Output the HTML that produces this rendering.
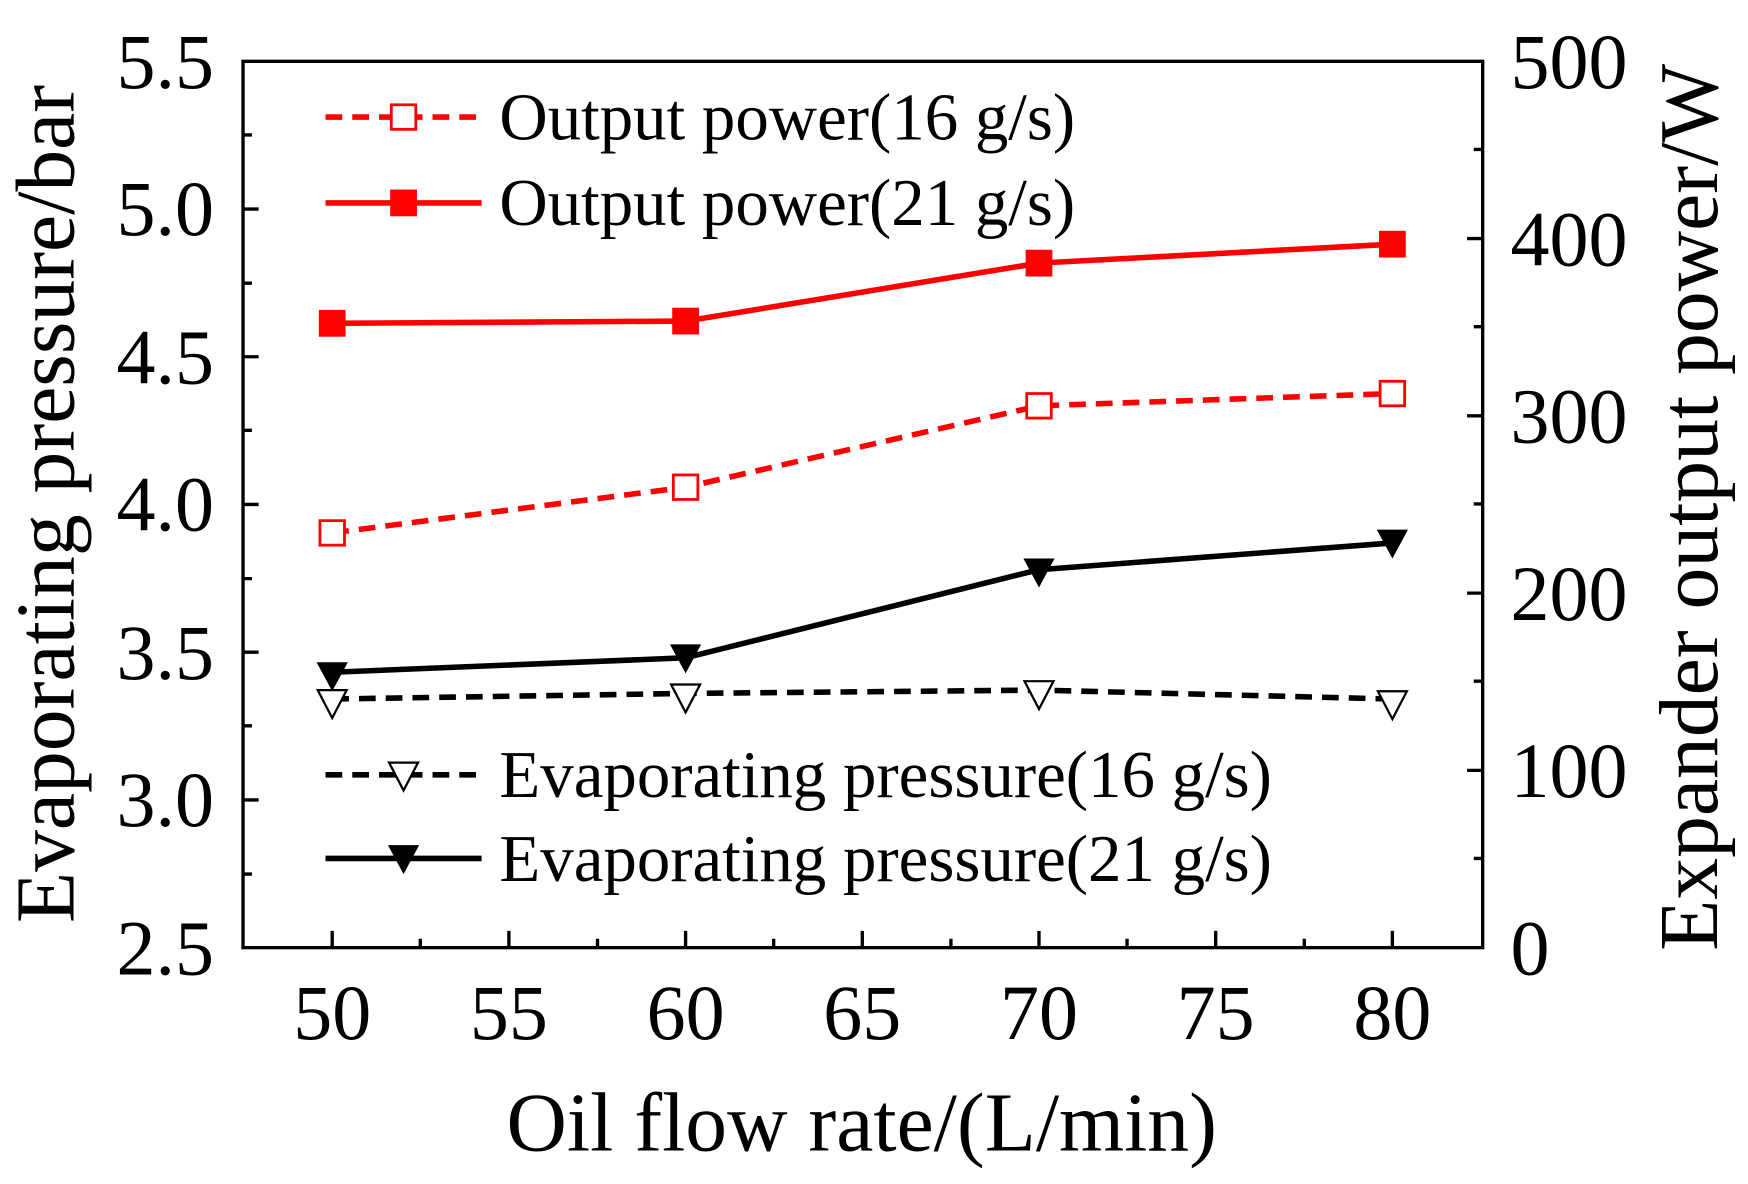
<!DOCTYPE html>
<html><head><style>html,body{margin:0;padding:0;background:#fff}svg{display:block}</style></head><body>
<svg width="1748" height="1184" viewBox="0 0 1568 1062" preserveAspectRatio="none" xmlns="http://www.w3.org/2000/svg" font-family="Liberation Serif, serif">
<rect x="218" y="55" width="1112" height="795" fill="none" stroke="#000" stroke-width="3"/>
<g stroke="#000" stroke-width="3">
<path d="M218 187.5h14M218 320h14M218 452.5h14M218 585h14M218 717.5h14M218 121h8M218 254h8M218 386h8M218 519h8M218 651h8M218 784h8"/>
<path d="M1330 214h-14M1330 373h-14M1330 532h-14M1330 691h-14M1330 134h-8M1330 293h-8M1330 452h-8M1330 611h-8M1330 770h-8"/>
<path d="M298 850v-15M456.5 850v-15M615 850v-15M773.5 850v-15M932 850v-15M1090.5 850v-15M1249 850v-15M377 850v-8M536 850v-8M694 850v-8M853 850v-8M1011 850v-8M1170 850v-8"/>
</g>
<g font-size="70" text-anchor="end">
<text x="192" y="79">5.5</text><text x="192" y="211">5.0</text><text x="192" y="344">4.5</text><text x="192" y="476">4.0</text><text x="192" y="609">3.5</text><text x="192" y="741">3.0</text><text x="192" y="874">2.5</text>
</g>
<g font-size="70" text-anchor="start">
<text x="1355" y="79">500</text><text x="1355" y="238">400</text><text x="1355" y="397">300</text><text x="1355" y="556">200</text><text x="1355" y="715">100</text><text x="1355" y="874">0</text>
</g>
<g font-size="70" text-anchor="middle">
<text x="298" y="932">50</text><text x="456.5" y="932">55</text><text x="615" y="932">60</text><text x="773.5" y="932">65</text><text x="932" y="932">70</text><text x="1090.5" y="932">75</text><text x="1249" y="932">80</text>
</g>
<text x="773" y="1032" font-size="75" text-anchor="middle">Oil flow rate/(L/min)</text>
<text transform="translate(66,452) rotate(-90)" font-size="75" text-anchor="middle">Evaporating pressure/bar</text>
<text transform="translate(1540,455) rotate(-90)" font-size="75" text-anchor="middle">Expander output power/W</text>
<g fill="none" stroke-width="5">
<polyline points="298,290 615,288 932,236 1249,219" stroke="#f00"/>
<polyline points="298,478 615,437 932,364 1249,353" stroke="#f00" stroke-dasharray="15,9"/>
<polyline points="298,603 615,590 932,511 1249,487" stroke="#000"/>
<polyline points="298,627 615,622 932,619 1249,627" stroke="#000" stroke-dasharray="15,9"/>
<path d="M292 105h140" stroke="#f00" stroke-dasharray="15,9"/>
<path d="M292 182h140" stroke="#f00"/>
<path d="M292 695h140" stroke="#000" stroke-dasharray="15,9"/>
<path d="M292 770h140" stroke="#000"/>
</g>
<g fill="#f00">
<rect x="286" y="278" width="24" height="24"/><rect x="603" y="276" width="24" height="24"/><rect x="920" y="224" width="24" height="24"/><rect x="1237" y="207" width="24" height="24"/><rect x="350" y="170" width="24" height="24"/>
</g>
<g fill="#fff" stroke="#f00" stroke-width="2.5">
<rect x="287" y="467" width="22" height="22"/><rect x="604" y="426" width="22" height="22"/><rect x="921" y="353" width="22" height="22"/><rect x="1238" y="342" width="22" height="22"/><rect x="351" y="94" width="22" height="22"/>
</g>
<g fill="#000">
<path d="M284 594h28l-14 26z"/><path d="M601 578h28l-14 26z"/><path d="M918 501h28l-14 26z"/><path d="M1235 475h28l-14 26z"/><path d="M348 758h28l-14 26z"/>
</g>
<g fill="#fff" stroke="#000" stroke-width="2">
<path d="M285 619h26l-13 25z"/><path d="M602 614h26l-13 25z"/><path d="M919 611h26l-13 25z"/><path d="M1236 620h26l-13 25z"/><path d="M349 684h26l-13 25z"/>
</g>
<g font-size="60">
<text x="448" y="125">Output power(16 g/s)</text>
<text x="448" y="202">Output power(21 g/s)</text>
<text x="448" y="715">Evaporating pressure(16 g/s)</text>
<text x="448" y="790">Evaporating pressure(21 g/s)</text>
</g>
</svg>
</body></html>
